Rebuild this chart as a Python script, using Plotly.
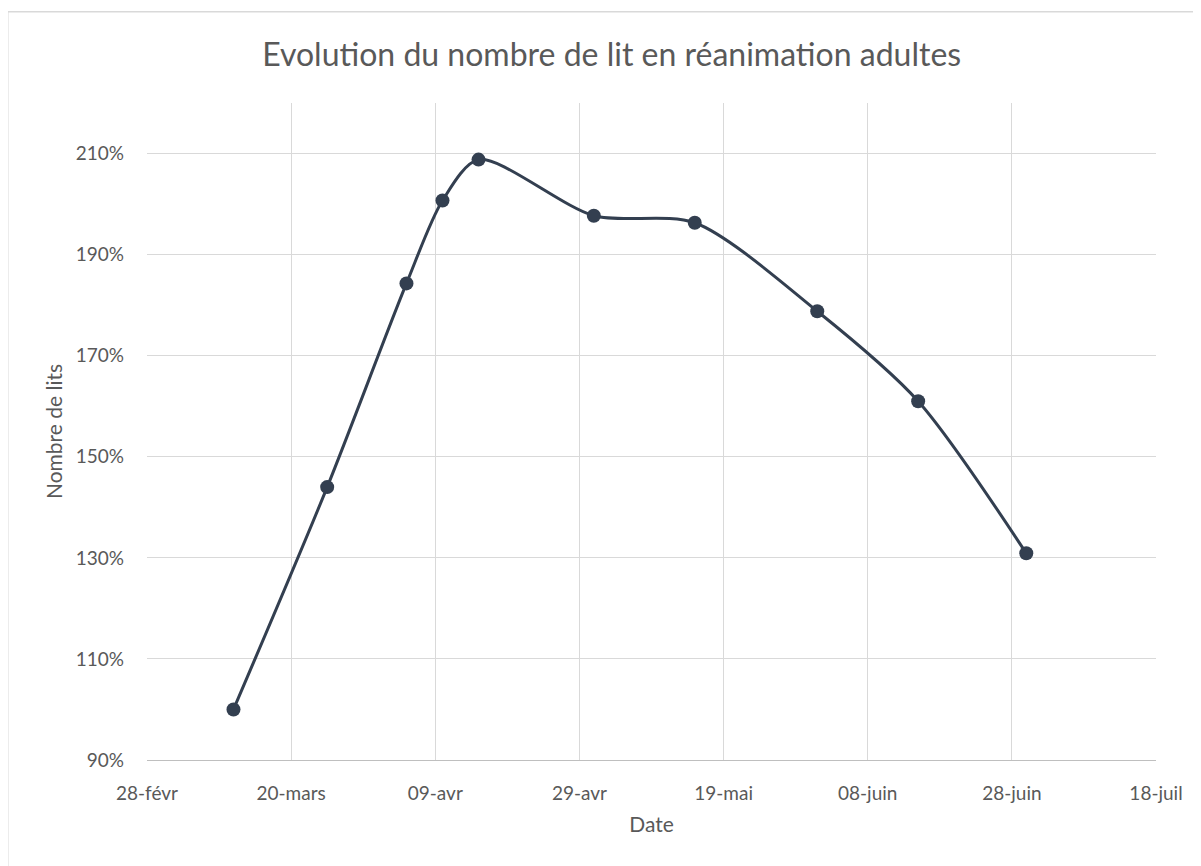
import plotly.graph_objects as go

# ── Data ─────────────────────────────────────────────────────
dates = [
    "2021-03-12", "2021-03-25", "2021-04-05", "2021-04-10", "2021-04-15",
    "2021-05-01", "2021-05-15", "2021-06-01", "2021-06-15", "2021-06-30",
]
ratio = [1.00, 1.44, 1.843, 2.007, 2.088, 1.977, 1.963, 1.788, 1.61, 1.309]

tick_dates = [
    "2021-02-28", "2021-03-20", "2021-04-09", "2021-04-29",
    "2021-05-19", "2021-06-08", "2021-06-28", "2021-07-18",
]
tick_labels = ["28-févr", "20-mars", "09-avr", "29-avr",
               "19-mai", "08-juin", "28-juin", "18-juil"]
y_ticks = [0.9, 1.1, 1.3, 1.5, 1.7, 1.9, 2.1]

TXT = "#595959"
GRID = "#D9D9D9"
LINE = "#333F50"

fig = go.Figure()

fig.add_trace(go.Scatter(
    x=dates,
    y=ratio,
    mode="lines+markers",
    line=dict(color=LINE, width=3, shape="spline", smoothing=0.8),
    marker=dict(size=14, color=LINE),
    showlegend=False,
))

# page body has an 8px margin, so the figure is sized 8px smaller
fig.update_layout(
    title=dict(
        text="Evolution du nombre de lit en réanimation adultes",
        font=dict(size=32, color=TXT, family="Lato"),
        xref="container", x=0.506, xanchor="center",
        yref="container", y=0.945, yanchor="middle",
    ),
    width=1193, height=858,
    paper_bgcolor="white",
    plot_bgcolor="white",
    font=dict(family="Lato", color=TXT, size=19),
    margin=dict(l=139, r=45, t=95, b=106),
    xaxis=dict(
        type="date",
        range=["2021-02-28", "2021-07-18"],
        tickvals=tick_dates,
        ticktext=tick_labels,
        showgrid=True, gridcolor=GRID, gridwidth=1.3,
        showline=True, linecolor="#BFBFBF", linewidth=1.3,
        zeroline=False, ticks="",
        ticklabelstandoff=16,
        tickfont=dict(size=19, color=TXT),
        title=dict(text="Date", font=dict(size=21, color=TXT), standoff=14),
    ),
    yaxis=dict(
        range=[0.9, 2.2],
        tickvals=y_ticks,
        tickformat=".0%",
        showgrid=True, gridcolor=GRID, gridwidth=1.3,
        showline=False, zeroline=False, ticks="",
        ticklabelstandoff=22,
        tickfont=dict(size=19, color=TXT),
        title=dict(text="Nombre de lits", font=dict(size=21, color=TXT), standoff=7),
    ),
    shapes=[
        # Excel-style chart frame
        dict(type="rect", xref="paper", yref="paper",
             x0=-0.138, x1=1.2, y0=-0.3, y1=1.139,
             line=dict(color=GRID, width=1.5), layer="below"),
    ],
)

fig.write_html("out.html")
